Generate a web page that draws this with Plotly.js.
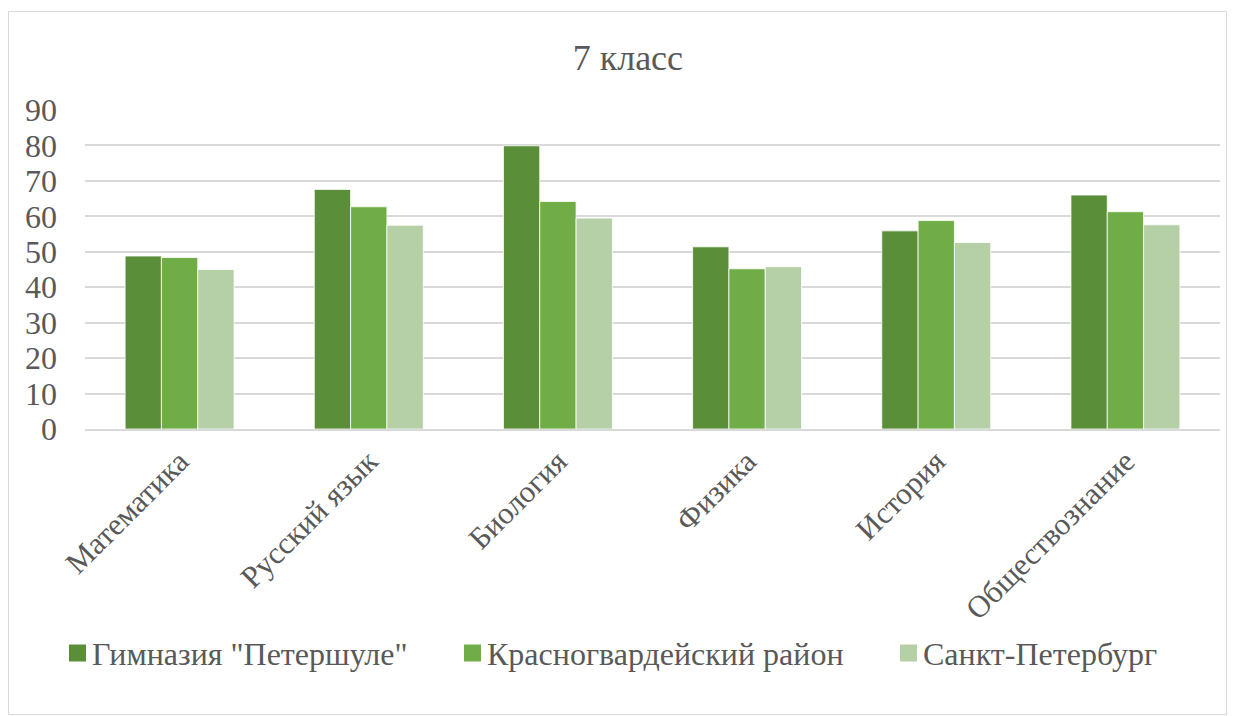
<!DOCTYPE html>
<html>
<head>
<meta charset="utf-8">
<script src="https://cdn.plot.ly/plotly-3.0.1.min.js"></script>
<style>
  html, body { margin: 0; padding: 0; background: #fff; }
  #frame { position: absolute; left: 8px; top: 11px; width: 1219px; height: 704px; border: 1px solid #d9d9d9; box-sizing: border-box; }
  #chart { position: absolute; left: 0; top: 0; width: 1236px; height: 716px; }
</style>
</head>
<body>
<div id="frame"></div>
<div id="chart"></div>
<script>
const categories = ["Математика", "Русский язык", "Биология", "Физика", "История", "Обществознание"];
const seriesNames = ["Гимназия \"Петершуле\"", "Красногвардейский район", "Санкт-Петербург"];
const gymnasium = [48.8, 67.6, 79.9, 51.4, 55.9, 66.0];
const district = [48.4, 62.7, 64.2, 45.2, 58.8, 61.3];
const city = [45.0, 57.5, 59.5, 45.8, 52.6, 57.6];
const colors = ["#5B8E39", "#70AD47", "#B5CFA7"];
const yTicks = [0, 10, 20, 30, 40, 50, 60, 70, 80, 90];

const font = "Liberation Serif";
const textColor = "#595959";

// plot area in pixels (for placing the custom legend)
const PL = 85, PR = 1220, PT = 110, PB = 429;
const px = x => (x - PL) / (PR - PL);
const py = y => (PB - y) / (PB - PT);

const values = [gymnasium, district, city];
const traces = values.map((v, i) => ({
  type: "bar",
  name: seriesNames[i],
  x: categories,
  y: v,
  marker: { color: colors[i], line: { color: "#ffffff", width: 0.8 } },
  hoverinfo: "x+y+name"
}));

// legend drawn as shapes + annotations
const legendX = [69, 464, 900];
const legendY = 653;
const shapes = seriesNames.map((n, i) => ({
  type: "rect", xref: "paper", yref: "paper",
  x0: px(legendX[i]), x1: px(legendX[i] + 17),
  y0: py(legendY - 8.5), y1: py(legendY + 8.5),
  fillcolor: colors[i], line: { width: 0 }
}));
const annotations = seriesNames.map((n, i) => ({
  text: n, showarrow: false, xref: "paper", yref: "paper",
  x: px(legendX[i] + 21), xanchor: "left",
  y: py(legendY + 1), yanchor: "middle",
  font: { family: font, size: 32, color: textColor }
}));

const layout = {
  width: 1236,
  height: 716,
  paper_bgcolor: "rgba(0,0,0,0)",
  plot_bgcolor: "rgba(0,0,0,0)",
  margin: { l: PL, r: 1236 - PR, t: PT, b: 716 - PB },
  barmode: "group",
  bargap: 0.424,
  bargroupgap: 0,
  font: { family: font, color: textColor },
  title: {
    text: "7 класс",
    font: { family: font, size: 36, color: textColor },
    x: 0.508, xanchor: "center",
    y: 0.92, yanchor: "middle", yref: "container"
  },
  xaxis: {
    tickangle: -45,
    tickfont: { family: font, size: 31, color: textColor },
    showline: true, linecolor: "#d9d9d9", linewidth: 1.5,
    ticks: "", showgrid: false
  },
  yaxis: {
    range: [0, 90],
    tickvals: yTicks,
    tickfont: { family: font, size: 32, color: textColor },
    gridcolor: "#d9d9d9", gridwidth: 1.5,
    zeroline: false, showline: false,
    ticklabelstandoff: 27
  },
  showlegend: false,
  shapes: shapes,
  annotations: annotations
};

Plotly.newPlot("chart", traces, layout, { displayModeBar: false, responsive: false });
</script>
</body>
</html>
